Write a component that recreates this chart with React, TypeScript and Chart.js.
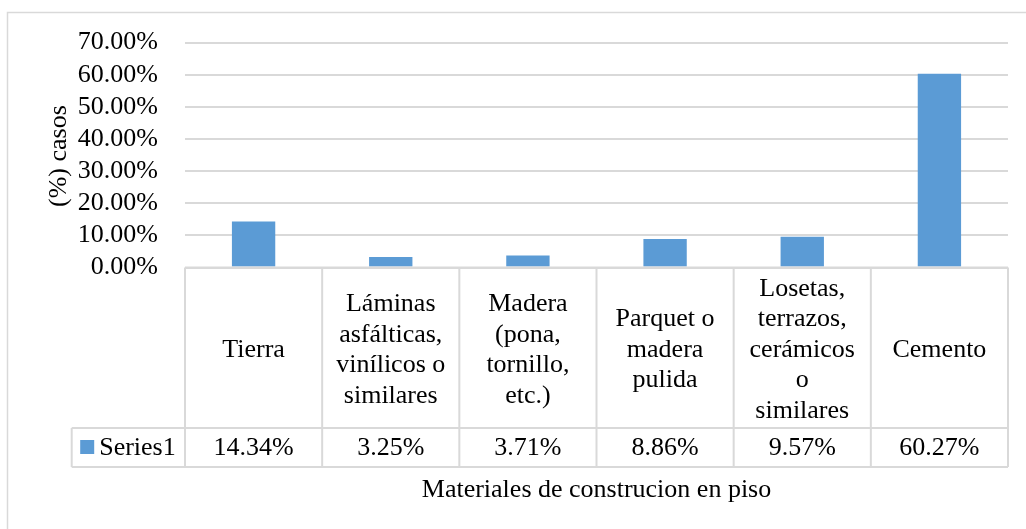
import React, { useEffect, useRef } from "react";
import { Chart, registerables } from "chart.js";

Chart.register(...registerables);

// ---------- data ----------
const categoryLines: string[][] = [
  ["Tierra"],
  ["Láminas", "asfálticas,", "vinílicos o", "similares"],
  ["Madera", "(pona,", "tornillo,", "etc.)"],
  ["Parquet o", "madera", "pulida"],
  ["Losetas,", "terrazos,", "cerámicos", "o", "similares"],
  ["Cemento"],
];
const categories = categoryLines.map((l) => l.join(" "));
const seriesName = "Series1";
const values = [14.34, 3.25, 3.71, 8.86, 9.57, 60.27];
const valueLabels = ["14.34%", "3.25%", "3.71%", "8.86%", "9.57%", "60.27%"];
const yMin = 0;
const yMax = 70;
const yStep = 10;
const yAxisTitle = "(%) casos";
const xAxisTitle = "Materiales de construcion en piso";

// ---------- styles ----------
const FONT = "'Liberation Serif', 'Times New Roman', serif";
const FONT_SIZE = 26;
const TEXT = "#000000";
const GRID = "#d9d9d9";
const BAR = "#5b9bd5";

const tablePlugin = {
  id: "dataTable",
  beforeDraw(chart: any) {
    const ctx = chart.ctx as CanvasRenderingContext2D;
    ctx.save();
    ctx.fillStyle = "#ffffff";
    ctx.fillRect(0, 0, chart.width, chart.height);
    ctx.strokeStyle = GRID;
    ctx.lineWidth = 1.5;
    ctx.beginPath();
    ctx.moveTo(7.5, chart.height);
    ctx.lineTo(7.5, 12.5);
    ctx.lineTo(chart.width, 12.5);
    ctx.stroke();
    ctx.restore();
  },
  afterDraw(chart: any) {
    const ctx = chart.ctx as CanvasRenderingContext2D;
    const { left, right, bottom, top } = chart.chartArea;
    const xs = chart.scales.x;
    const n = categories.length;
    const colW = (right - left) / n;
    const headerBottom = bottom + 160.5;
    const rowBottom = headerBottom + 39;
    const legendLeft = left - 113.3;

    ctx.save();
    ctx.strokeStyle = GRID;
    ctx.lineWidth = 2;
    ctx.beginPath();
    ctx.moveTo(left, bottom);
    ctx.lineTo(right, bottom);
    ctx.moveTo(legendLeft, headerBottom);
    ctx.lineTo(right, headerBottom);
    ctx.moveTo(legendLeft, rowBottom);
    ctx.lineTo(right, rowBottom);
    ctx.moveTo(legendLeft, headerBottom);
    ctx.lineTo(legendLeft, rowBottom);
    for (let i = 0; i <= n; i++) {
      const x = i < n ? xs.getPixelForValue(i) - colW / 2 : xs.getPixelForValue(n - 1) + colW / 2;
      ctx.moveTo(x, bottom);
      ctx.lineTo(x, rowBottom);
    }
    ctx.stroke();

    ctx.fillStyle = TEXT;
    ctx.font = `${FONT_SIZE}px ${FONT}`;
    ctx.textAlign = "center";
    ctx.textBaseline = "alphabetic";
    const headerCenter = (bottom + headerBottom) / 2;
    const lineH = 30.5;
    for (let i = 0; i < n; i++) {
      const cx = xs.getPixelForValue(i);
      const lines = categoryLines[i];
      lines.forEach((t, j) => {
        const y = headerCenter + 9 + (j - (lines.length - 1) / 2) * lineH;
        ctx.fillText(t, cx, y);
      });
      ctx.fillText(valueLabels[i], cx, rowBottom - 11.7);
    }

    ctx.fillStyle = BAR;
    ctx.fillRect(legendLeft + 8.5, headerBottom + 12, 14, 14);
    ctx.fillStyle = TEXT;
    ctx.textAlign = "left";
    ctx.fillText(seriesName, legendLeft + 27.5, rowBottom - 11.7);

    ctx.textAlign = "center";
    ctx.fillText(xAxisTitle, (left + right) / 2, 497);

    ctx.save();
    ctx.translate(66, (top + bottom) / 2 + 1);
    ctx.rotate(-Math.PI / 2);
    ctx.textAlign = "center";
    ctx.textBaseline = "alphabetic";
    ctx.fillText(yAxisTitle, 0, 0);
    ctx.restore();

    ctx.restore();
  },
};

export default function App() {
  const ref = useRef<HTMLCanvasElement | null>(null);
  useEffect(() => {
    if (!ref.current) return;
    const chart = new Chart(ref.current, {
      type: "bar",
      data: {
        labels: categories,
        datasets: [
          {
            label: seriesName,
            data: values,
            backgroundColor: BAR,
            borderWidth: 0,
            barPercentage: 0.316,
            categoryPercentage: 1,
          },
        ],
      },
      options: {
        animation: false,
        responsive: false,
        devicePixelRatio: 1,
        layout: { padding: { left: 0, top: 41.3, right: 18, bottom: 261.5 } },
        plugins: {
          legend: { display: false },
          tooltip: { enabled: false },
          title: { display: false },
        },
        scales: {
          x: { type: "category", display: false },
          y: {
            min: yMin,
            max: yMax,
            ticks: {
              stepSize: yStep,
              autoSkip: false,
              padding: 27,
              color: TEXT,
              font: { family: FONT, size: FONT_SIZE },
              callback: (v: any) => Number(v).toFixed(2) + "%",
            },
            grid: { color: GRID, lineWidth: 2, drawTicks: false },
            border: { display: false },
            afterFit: (scale: any) => {
              scale.width = 185;
            },
          },
        },
      },
      plugins: [tablePlugin],
    });
    return () => chart.destroy();
  }, []);
  return (
    <div style={{ position: "absolute", left: 0, top: 0, width: 1026, height: 529 }}>
      <canvas ref={ref} width={1026} height={529} style={{ display: "block" }} />
    </div>
  );
}
